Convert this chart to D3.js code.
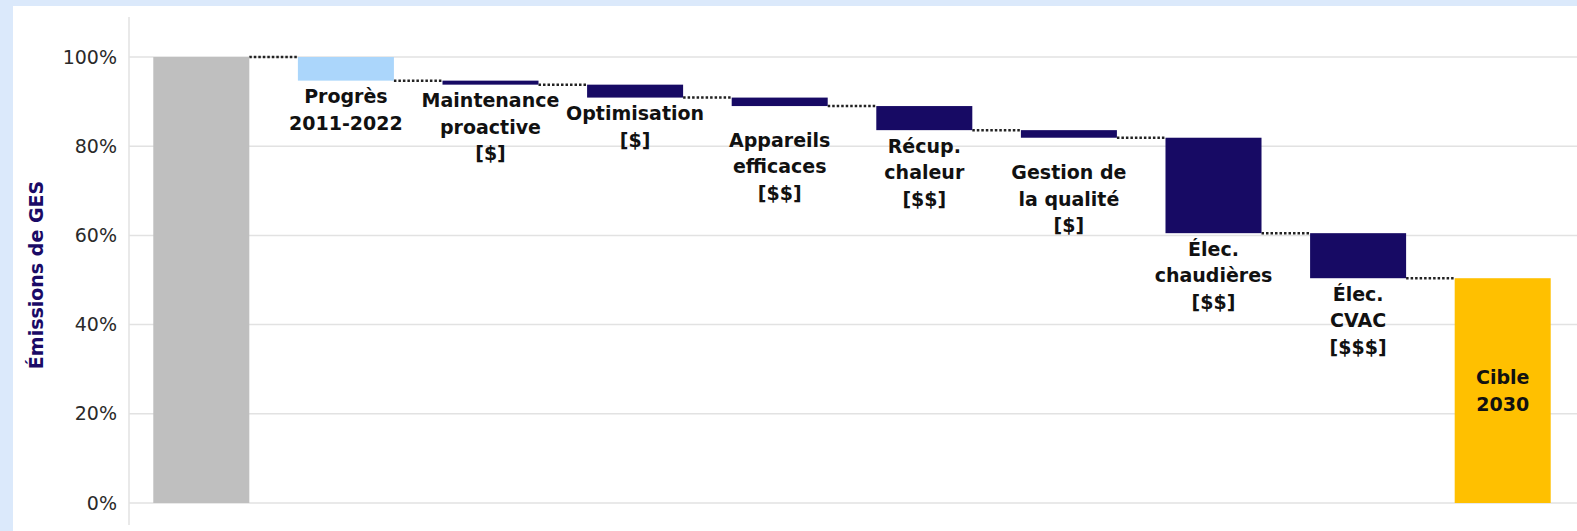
<!DOCTYPE html>
<html>
<head>
<meta charset="utf-8">
<script src="https://cdn.jsdelivr.net/npm/d3@7"></script>
<style>
  html, body { margin: 0; padding: 0; background: #dbe9fb; }
  svg { display: block; }
</style>
</head>
<body>
<div id="chart"></div>
<script>
// waterfall data (GHG emissions, % of base year)
var categories = ["Base", "Progrès 2011-2022", "Maintenance proactive", "Optimisation", "Appareils efficaces",
                  "Récup. chaleur", "Gestion de la qualité", "Élec. chaudières", "Élec. CVAC", "Cible 2030"];
var labelLines = [
  [],
  ["Progrès", "2011-2022"],
  ["Maintenance", "proactive", "[$]"],
  ["Optimisation", "[$]"],
  ["Appareils", "efficaces", "[$$]"],
  ["Récup.", "chaleur", "[$$]"],
  ["Gestion de", "la qualité", "[$]"],
  ["Élec.", "chaudières", "[$$]"],
  ["Élec.", "CVAC", "[$$$]"],
  ["Cible", "2030"]
];
var startValue = 100;
var deltas = [-5.3, -0.9, -2.9, -1.9, -5.4, -1.7, -21.4, -10.1];
var yTicks = [0, 20, 40, 60, 80, 100];

var W = 1577, H = 531;
var svg = d3.select("#chart").append("svg").attr("width", W).attr("height", H);

// white panel
svg.append("rect").attr("x", 13).attr("y", 6).attr("width", W - 13).attr("height", H - 6).attr("fill", "#fff");

var x = d3.scaleBand().domain(d3.range(categories.length)).range([129, 1575])
  .paddingInner(0.336).paddingOuter(0.168);
var y = d3.scaleLinear().domain([0, 100]).range([503, 57]);

// build bars from deltas
var bars = [];
var level = startValue;
bars.push({i: 0, top: startValue, bottom: 0, color: "#bfbfbf"});
deltas.forEach(function(d, k) {
  var next = level + d;
  bars.push({i: k + 1, top: level, bottom: next, color: k == 0 ? "#abd6fb" : "#170a64"});
  level = next;
});
bars.push({i: categories.length - 1, top: level, bottom: 0, color: "#ffc000"});

// gridlines
svg.append("g").selectAll("line").data(yTicks).enter().append("line")
  .attr("x1", 129).attr("x2", W)
  .attr("y1", function(d) { return y(d); }).attr("y2", function(d) { return y(d); })
  .attr("stroke", "#e2e2e2").attr("stroke-width", 1.5);

// y axis
var yAxis = svg.append("g").attr("transform", "translate(129,0)")
  .call(d3.axisLeft(y).tickValues(yTicks).tickSize(0).tickPadding(12).tickFormat(function(d) { return d + "%"; }));
yAxis.select(".domain").remove();
yAxis.selectAll("text").attr("font-family", "DejaVu Sans").attr("font-size", 19).attr("fill", "#2a2a2a");
svg.append("line").attr("x1", 129).attr("x2", 129).attr("y1", 17).attr("y2", 525)
  .attr("stroke", "#e2e2e2").attr("stroke-width", 1.5);

svg.append("text")
  .attr("transform", "translate(43,275) rotate(-90)")
  .attr("text-anchor", "middle")
  .attr("font-family", "DejaVu Sans").attr("font-weight", "bold").attr("font-size", 19)
  .attr("fill", "#1a0a66")
  .text("Émissions de GES");

// connectors
svg.append("g").selectAll("line").data(bars.slice(0, bars.length - 1)).enter().append("line")
  .attr("x1", function(d) { return x(d.i) + x.bandwidth(); })
  .attr("x2", function(d) { return x(d.i + 1); })
  .attr("y1", function(d) { return y(d.i == 0 ? d.top : d.bottom); })
  .attr("y2", function(d) { return y(d.i == 0 ? d.top : d.bottom); })
  .attr("stroke", "#222").attr("stroke-width", 2.5).attr("stroke-dasharray", "2.5,2");

// bars
svg.append("g").selectAll("rect").data(bars).enter().append("rect")
  .attr("x", function(d) { return x(d.i); })
  .attr("width", x.bandwidth())
  .attr("y", function(d) { return y(Math.max(d.top, d.bottom)); })
  .attr("height", function(d) { return Math.abs(y(d.top) - y(d.bottom)); })
  .attr("fill", function(d) { return d.color; });

// labels
var nudge = {4: 18, 6: 19};
var lineH = 26.5;
var labels = svg.append("g").attr("font-family", "DejaVu Sans").attr("font-weight", "bold")
  .attr("font-size", 19).attr("fill", "#111").attr("text-anchor", "middle");
bars.forEach(function(b) {
  var lines = labelLines[b.i];
  if (!lines.length) return;
  var cx = x(b.i) + x.bandwidth() / 2;
  var y0;
  if (b.i == categories.length - 1) {
    y0 = (y(b.top) + y(0)) / 2 - lineH * (lines.length - 1) / 2;
  } else {
    y0 = y(b.bottom) + 16 + (nudge[b.i] || 0);
  }
  lines.forEach(function(t, j) {
    labels.append("text").attr("x", cx).attr("y", y0 + j * lineH).attr("dy", "0.35em").text(t);
  });
});
</script>
</body>
</html>
